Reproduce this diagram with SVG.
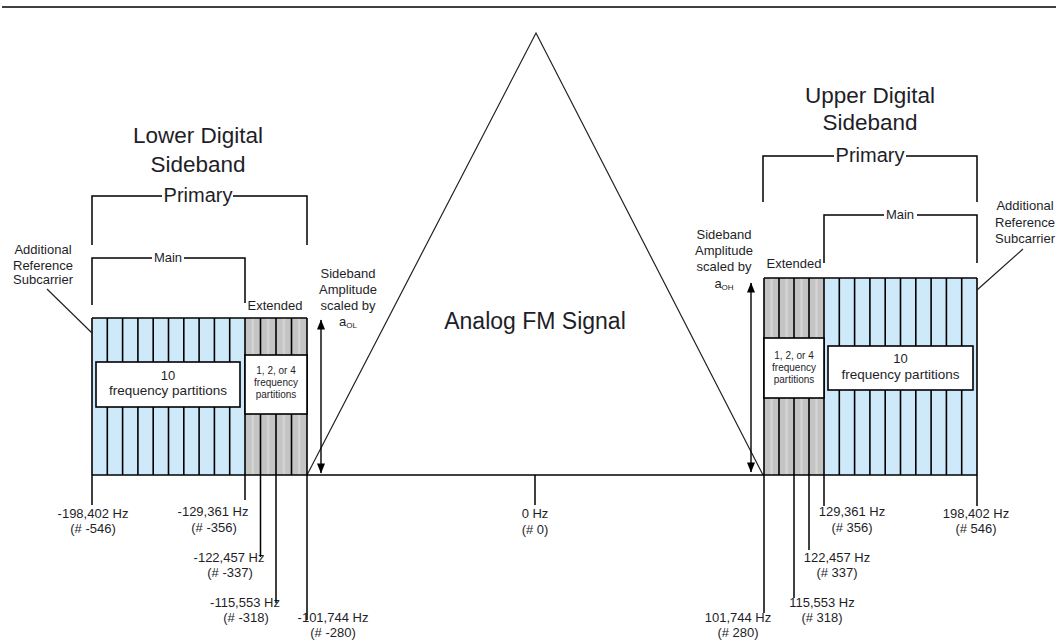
<svg xmlns="http://www.w3.org/2000/svg" width="1056" height="641" viewBox="0 0 1056 641">
<defs>
<marker id="ah" viewBox="0 0 10 8" refX="9.5" refY="4" markerWidth="11" markerHeight="8" markerUnits="userSpaceOnUse" orient="auto-start-reverse">
<path d="M0,0 L10,4 L0,8 z" fill="#000"/>
</marker>
<pattern id="greyPat" x="245" y="0" width="15.5" height="10" patternUnits="userSpaceOnUse">
<rect width="15.5" height="10" fill="#c4c4c4"/>
<rect x="6.5" width="2.5" height="10" fill="#d4d4d4"/>
</pattern>
<pattern id="greyPatR" x="764" y="0" width="15" height="10" patternUnits="userSpaceOnUse">
<rect width="15" height="10" fill="#c4c4c4"/>
<rect x="6.3" width="2.5" height="10" fill="#d4d4d4"/>
</pattern>
</defs>
<style>
text{font-family:"Liberation Sans",Arial,sans-serif;fill:#1e1e28}
.t13{font-size:13px;text-anchor:middle}
.t10{font-size:10px;text-anchor:middle}
.fp{font-size:13.5px;text-anchor:middle}
.title{font-size:22.5px;text-anchor:middle}
.prim{font-size:20px;text-anchor:middle}
.big{font-size:23px;text-anchor:middle}
.ln{stroke:#000;stroke-width:1.5;fill:none}
.cl{stroke:#000;stroke-width:1.6}
.blue{fill:#cde9fa}
.box{fill:#fff;stroke:#000;stroke-width:1.6}
.thin{stroke:#222;stroke-width:1.2;fill:none}
.arr{stroke:#000;stroke-width:1.4;marker-start:url(#ah);marker-end:url(#ah)}
</style>
<rect width="1056" height="641" fill="#fff"/>
<line x1="2" y1="7" x2="1056" y2="7" stroke="#000" stroke-width="1.6"/>

<g id="analog-fm">
<path class="thin" d="M307,475 L536,33 L763,475"/>
<text class="big" x="535" y="329">Analog FM Signal</text>
</g>

<g id="lower-sideband">
<text class="title" x="198" y="143">Lower Digital</text>
<text class="title" x="198" y="172">Sideband</text>
<rect class="blue" x="92" y="318" width="153" height="157"/>
<rect x="245" y="318" width="62" height="157" fill="url(#greyPat)"/>
<g class="cl">
<line x1="92" y1="318" x2="307" y2="318"/>
<line x1="92" y1="318" x2="92" y2="475"/>
<line x1="107.3" y1="318" x2="107.3" y2="475"/>
<line x1="122.6" y1="318" x2="122.6" y2="475"/>
<line x1="137.9" y1="318" x2="137.9" y2="475"/>
<line x1="153.2" y1="318" x2="153.2" y2="475"/>
<line x1="168.5" y1="318" x2="168.5" y2="475"/>
<line x1="183.8" y1="318" x2="183.8" y2="475"/>
<line x1="199.1" y1="318" x2="199.1" y2="475"/>
<line x1="214.4" y1="318" x2="214.4" y2="475"/>
<line x1="229.7" y1="318" x2="229.7" y2="475"/>
<line x1="245" y1="318" x2="245" y2="475"/>
<line x1="260.5" y1="318" x2="260.5" y2="475"/>
<line x1="276" y1="318" x2="276" y2="475"/>
<line x1="291.5" y1="318" x2="291.5" y2="475"/>
<line x1="307" y1="318" x2="307" y2="475"/>
</g>
<rect class="box" x="96" y="362" width="144" height="45"/>
<text class="t13" x="168" y="380">10</text>
<text class="fp" x="168" y="395">frequency partitions</text>
<rect class="box" x="245" y="355" width="62" height="59"/>
<text class="t10" x="276" y="374">1, 2, or 4</text>
<text class="t10" x="276" y="386">frequency</text>
<text class="t10" x="276" y="398">partitions</text>
</g>

<g id="upper-sideband">
<text class="title" x="870" y="103">Upper Digital</text>
<text class="title" x="870" y="130">Sideband</text>
<rect x="764" y="278" width="60" height="197" fill="url(#greyPatR)"/>
<rect class="blue" x="824" y="278" width="153" height="197"/>
<g class="cl">
<line x1="764" y1="278" x2="977" y2="278"/>
<line x1="764" y1="278" x2="764" y2="475"/>
<line x1="779" y1="278" x2="779" y2="475"/>
<line x1="794" y1="278" x2="794" y2="475"/>
<line x1="809" y1="278" x2="809" y2="475"/>
<line x1="824" y1="278" x2="824" y2="475"/>
<line x1="839.3" y1="278" x2="839.3" y2="475"/>
<line x1="854.6" y1="278" x2="854.6" y2="475"/>
<line x1="869.9" y1="278" x2="869.9" y2="475"/>
<line x1="885.2" y1="278" x2="885.2" y2="475"/>
<line x1="900.5" y1="278" x2="900.5" y2="475"/>
<line x1="915.8" y1="278" x2="915.8" y2="475"/>
<line x1="931.1" y1="278" x2="931.1" y2="475"/>
<line x1="946.4" y1="278" x2="946.4" y2="475"/>
<line x1="961.7" y1="278" x2="961.7" y2="475"/>
<line x1="977" y1="278" x2="977" y2="475"/>
</g>
<rect class="box" x="828" y="346" width="145" height="44"/>
<text class="t13" x="900.5" y="363">10</text>
<text class="fp" x="900.5" y="379">frequency partitions</text>
<rect class="box" x="764" y="338" width="60" height="60"/>
<text class="t10" x="794" y="359">1, 2, or 4</text>
<text class="t10" x="794" y="371">frequency</text>
<text class="t10" x="794" y="383">partitions</text>
</g>

<g id="labels">
<text class="prim" x="198" y="202">Primary</text>
<text class="t13" x="168" y="262">Main</text>
<text class="t13" x="275" y="310">Extended</text>
<text class="t13" x="43" y="254">Additional</text>
<text class="t13" x="43" y="270">Reference</text>
<text class="t13" x="43" y="284">Subcarrier</text>
<text class="t13" x="348" y="278">Sideband</text>
<text class="t13" x="348" y="294">Amplitude</text>
<text class="t13" x="348" y="310">scaled by</text>
<text class="t13" x="348" y="326">a<tspan font-size="8" dy="2">OL</tspan></text>

<text class="prim" x="870" y="162">Primary</text>
<text class="t13" x="900" y="219">Main</text>
<text class="t13" x="794" y="268">Extended</text>
<text class="t13" x="1025" y="210">Additional</text>
<text class="t13" x="1025" y="227">Reference</text>
<text class="t13" x="1025" y="243">Subcarrier</text>
<text class="t13" x="724" y="239">Sideband</text>
<text class="t13" x="724" y="255">Amplitude</text>
<text class="t13" x="724" y="271">scaled by</text>
<text class="t13" x="724" y="288">a<tspan font-size="8" dy="2">OH</tspan></text>

<text class="t13" x="93" y="518">-198,402 Hz</text>
<text class="t13" x="93" y="533">(# -546)</text>
<text class="t13" x="213" y="516">-129,361 Hz</text>
<text class="t13" x="214" y="532">(# -356)</text>
<text class="t13" x="229" y="562">-122,457 Hz</text>
<text class="t13" x="230" y="577">(# -337)</text>
<text class="t13" x="245" y="607">-115,553 Hz</text>
<text class="t13" x="246" y="622">(# -318)</text>
<text class="t13" x="333" y="622">-101,744 Hz</text>
<text class="t13" x="333" y="637">(# -280)</text>

<text class="t13" x="535" y="518">0 Hz</text>
<text class="t13" x="535" y="534">(# 0)</text>

<text class="t13" x="738" y="622">101,744 Hz</text>
<text class="t13" x="738" y="637">(# 280)</text>
<text class="t13" x="822" y="607">115,553 Hz</text>
<text class="t13" x="822" y="622">(# 318)</text>
<text class="t13" x="837" y="562">122,457 Hz</text>
<text class="t13" x="837" y="577">(# 337)</text>
<text class="t13" x="852" y="516">129,361 Hz</text>
<text class="t13" x="852" y="532">(# 356)</text>
<text class="t13" x="976" y="518">198,402 Hz</text>
<text class="t13" x="976" y="533">(# 546)</text>
</g>

<g id="connectors">
<path class="ln" d="M92,245 V196 H162 M233,196 H307 V245"/>
<path class="ln" d="M92,305 V258 H152 M184,258 H245 V303"/>
<path class="ln" d="M763,202 V156 H834 M906,156 H977 V202"/>
<path class="ln" d="M824,263 V215 H884 M917,215 H977 V263"/>
<line class="thin" x1="47" y1="289" x2="92" y2="333"/>
<line class="thin" x1="1023" y1="249" x2="977" y2="290"/>
<line class="arr" x1="321" y1="320" x2="321" y2="473"/>
<line class="arr" x1="751" y1="283" x2="751" y2="472"/>
<line class="ln" x1="92" y1="475" x2="977" y2="475"/>
<g class="ln">
<line x1="92" y1="475" x2="92" y2="505"/>
<line x1="245" y1="475" x2="245" y2="500"/>
<line x1="260.5" y1="475" x2="260.5" y2="557"/>
<line x1="276" y1="475" x2="276" y2="603"/>
<line x1="307" y1="475" x2="307" y2="620"/>
<line x1="535" y1="475" x2="535" y2="505"/>
<line x1="764" y1="475" x2="764" y2="613"/>
<line x1="794" y1="475" x2="794" y2="598"/>
<line x1="809" y1="475" x2="809" y2="550"/>
<line x1="824" y1="475" x2="824" y2="506"/>
<line x1="977" y1="475" x2="977" y2="506"/>
</g>
</g>
</svg>
